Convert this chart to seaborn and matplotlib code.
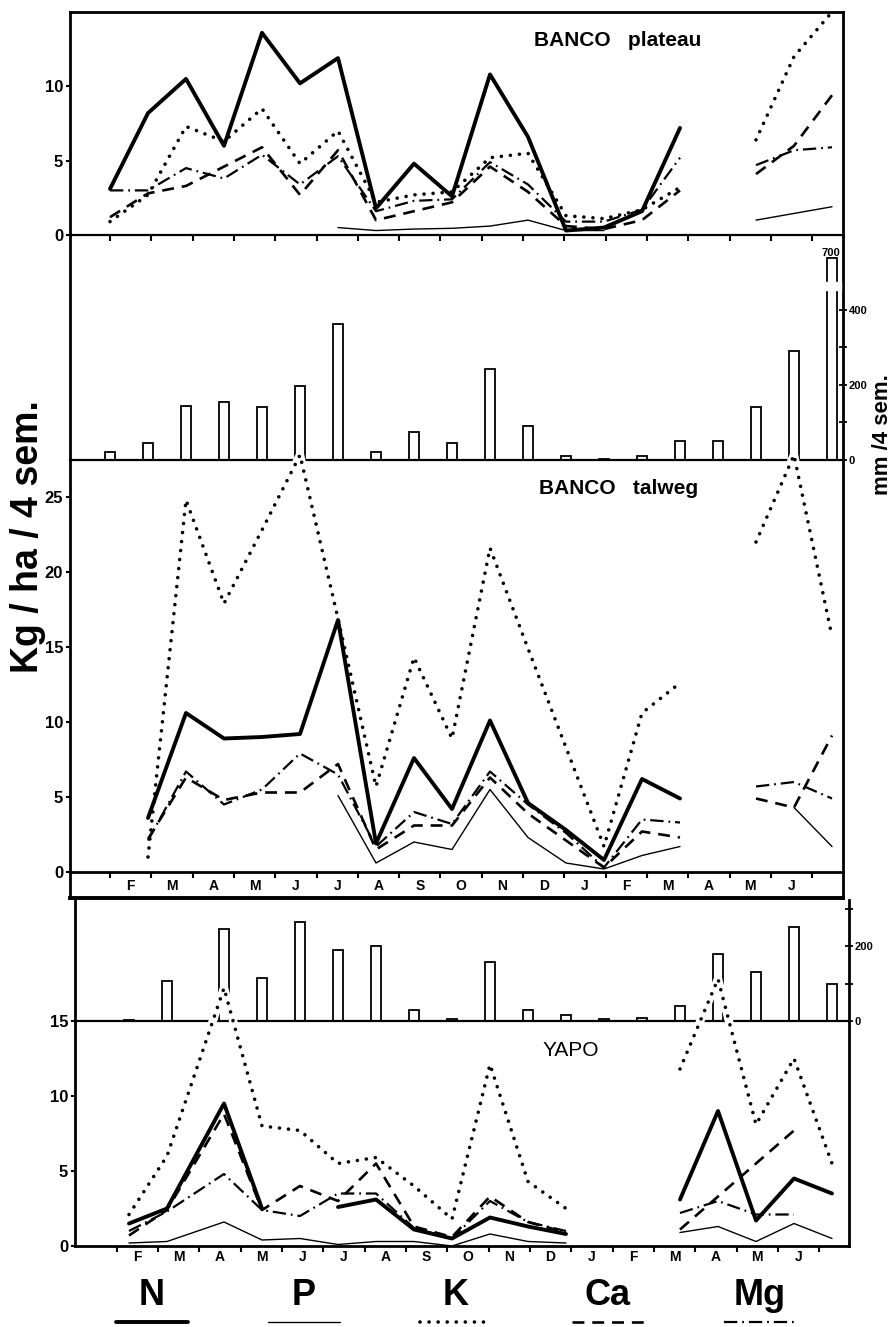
import numpy as np
import pandas as pd
import matplotlib
matplotlib.use("Agg")
import matplotlib.pyplot as plt
import matplotlib.transforms as mtransforms
import seaborn as sns

nan = np.nan

# ---------------------------------------------------------
# Data
# ---------------------------------------------------------
months = ['F', 'M', 'A', 'M', 'J', 'J', 'A', 'S', 'O', 'N', 'D',
          'J', 'F', 'M', 'A', 'M', 'J']
elements = ['N', 'P', 'K', 'Ca', 'Mg']

# Banco: 4-week sampling periods
banco_period = np.arange(20)
banco_rain = [20, 45, 145, 155, 140, 197, 363, 20, 75, 45,
              243, 91, 10, 3, 10, 51, 51, 141, 291, 700]

plateau_N = [3.1, 8.2, 10.5, 6.0, 13.6, 10.2, 11.9, 1.8, 4.8, 2.6,
             10.8, 6.6, 0.3, 0.5, 1.6, 7.2, nan, nan, nan, nan]
plateau_P = [nan, nan, nan, nan, nan, nan, 0.5, 0.3, 0.4, 0.45,
             0.6, 1.0, 0.3, 0.3, nan, nan, nan, 1.0, 1.45, 1.9]
plateau_K = [0.9, 2.7, 7.3, 6.3, 8.5, 4.8, 7.0, 2.2, 2.7, 2.9,
             5.2, 5.5, 1.3, 1.1, 1.7, 3.2, nan, 6.4, 12.0, 15.0]
plateau_Ca = [1.2, 2.8, 3.3, 4.6, 5.9, 2.7, 5.7, 1.0, 1.6, 2.2,
              4.6, 2.9, 0.6, 0.4, 1.0, 3.0, nan, 4.1, 6.0, 9.4]
plateau_Mg = [3.0, 3.0, 4.5, 3.8, 5.4, 3.4, 5.3, 1.6, 2.3, 2.4,
              4.9, 3.4, 0.9, 0.9, 1.7, 5.2, nan, 4.7, 5.7, 5.9]

talweg_N = [nan, 3.6, 10.6, 8.9, 9.0, 9.2, 16.8, 1.9, 7.6, 4.2,
            10.1, 4.6, 2.8, 0.8, 6.2, 4.9, nan, nan, nan, nan]
talweg_P = [nan, nan, nan, nan, nan, nan, 5.1, 0.6, 2.0, 1.5,
            5.5, 2.3, 0.6, 0.2, 1.1, 1.7, nan, nan, 4.3, 1.7]
talweg_K = [nan, 1.0, 24.8, 17.9, 22.8, 27.8, 16.9, 5.7, 14.3, 8.9,
            21.6, 14.9, 8.3, 1.7, 10.6, 12.6, nan, 22.0, 27.8, 15.7]
talweg_Ca = [nan, 2.2, 6.3, 4.8, 5.3, 5.3, 7.2, 1.5, 3.1, 3.1,
             6.3, 3.9, 2.1, 0.3, 2.7, 2.3, nan, 4.9, 4.3, 9.1]
talweg_Mg = [nan, 2.1, 6.7, 4.5, 5.5, 7.9, 6.5, 1.7, 4.0, 3.2,
             6.7, 4.5, 2.6, 0.3, 3.5, 3.3, nan, 5.7, 6.0, 4.9]

# Yapo: the first two samples fall between the Banco periods
yapo_period = [0.5, 1.5, 3, 4, 5, 6, 7, 8, 9, 10,
               11, 12, 13, 14, 15, 16, 17, 18, 19]
yapo_rain = [3, 107, 245, 115, 264, 190, 200, 29, 5, 157,
             29, 16, 5, 8, 40, 179, 131, 251, 99]

yapo_N = [1.5, 2.5, 9.5, 2.5, nan, 2.6, 3.1, 1.1, 0.5, 1.9,
          1.3, 0.8, nan, nan, 3.1, 9.0, 1.7, 4.5, 3.5]
yapo_P = [0.2, 0.3, 1.6, 0.4, 0.5, 0.1, 0.3, 0.3, 0.0, 0.8,
          0.3, 0.2, nan, nan, 0.9, 1.3, 0.3, 1.5, 0.5]
yapo_K = [2.1, 6.0, 17.2, 8.0, 7.7, 5.5, 5.9, 4.0, 1.8, 12.1,
          4.3, 2.5, nan, nan, 11.8, 17.8, 8.1, 12.5, 5.5]
yapo_Ca = [0.7, 2.4, 8.8, 2.4, 4.0, 3.0, 5.5, 1.3, 0.6, 3.3,
           1.6, 0.9, nan, nan, 1.1, 3.3, 5.5, 7.7, nan]
yapo_Mg = [1.0, 2.3, 4.8, 2.4, 2.0, 3.5, 3.5, 1.2, 0.5, 3.0,
           1.6, 1.0, nan, nan, 2.2, 3.0, 2.1, 2.1, nan]

plateau = dict(zip(elements, [plateau_N, plateau_P, plateau_K, plateau_Ca, plateau_Mg]))
talweg = dict(zip(elements, [talweg_N, talweg_P, talweg_K, talweg_Ca, talweg_Mg]))
yapo = dict(zip(elements, [yapo_N, yapo_P, yapo_K, yapo_Ca, yapo_Mg]))

# month boundaries expressed in 4-week periods
month_edges = np.arange(len(months) + 1) * 30.44 / 28
month_mids = (np.arange(len(months)) + 0.5) * 30.44 / 28

# ---------------------------------------------------------
# Style
# ---------------------------------------------------------
sns.set_style("ticks", rc={"axes.edgecolor": "black", "xtick.color": "black",
                           "ytick.color": "black", "text.color": "black"})
plt.rcParams["font.family"] = ["Liberation Sans", "DejaVu Sans"]
plt.rcParams["font.weight"] = "bold"
plt.rcParams["axes.linewidth"] = 2.0

line_style = {
    "N": dict(linewidth=2.8, linestyle="-"),
    "P": dict(linewidth=1.0, linestyle="-"),
    "K": dict(linewidth=2.6, linestyle=(0, (0.01, 2.5)), dash_capstyle="round"),
    "Ca": dict(linewidth=1.9, linestyle=(0, (4.5, 3.0))),
    "Mg": dict(linewidth=1.6, linestyle=(0, (6.0, 2.2, 0.8, 2.2))),
}

RAIN_CAP = 540      # mm, the tallest bar is drawn broken
W, H = 894, 1327
X0, DX = 110, 38    # pixel of period 0 and pixels per period

fig = plt.figure(figsize=(W / 100, H / 100), dpi=100)


def add_ax(l, t, r, b):
    ax = fig.add_axes([l / W, 1 - b / H, (r - l) / W, (b - t) / H])
    ax.set_facecolor("none")
    ax.set_xlim((l - X0) / DX, (r - X0) / DX)
    return ax


def to_long(x, series):
    frames = []
    for el in elements:
        v = np.asarray(series[el], dtype=float)
        keep = ~np.isnan(v)
        frames.append(pd.DataFrame({
            "period": np.asarray(x, dtype=float)[keep],
            "value": v[keep],
            "segment": np.cumsum(np.isnan(v))[keep],
            "element": el,
        }))
    return pd.concat(frames, ignore_index=True)


def draw_elements(ax, x, series, halo=False):
    df = to_long(x, series)
    for el in elements:
        sub = df[df["element"] == el]
        is_k = el == "K"
        if halo and is_k:
            # white under-stroke: breaks bars and base line where K crosses
            sns.lineplot(data=sub, x="period", y="value", units="segment",
                         estimator=None, color="white", linewidth=6,
                         clip_on=False, zorder=2.6, ax=ax)
        sns.lineplot(data=sub, x="period", y="value", units="segment",
                     estimator=None, color="black", clip_on=not is_k,
                     zorder=3.2 if is_k else 3, ax=ax, **line_style[el])
    ax.set(xlabel="", ylabel="")


def draw_rain(ax, x, rain, ymax, ticks, labels):
    x = np.asarray(x, dtype=float)
    rain = np.asarray(rain, dtype=float)
    sns.barplot(x=x, y=np.minimum(rain, RAIN_CAP), native_scale=True, fill=False,
                color="black", width=0.25, linewidth=1.3, errorbar=None, ax=ax)
    over = rain > RAIN_CAP
    if over.any():
        ax.bar(x[over], RAIN_CAP * 0.04, bottom=RAIN_CAP * 0.84, width=0.45,
               color="white", zorder=3)
        trans = mtransforms.blended_transform_factory(ax.transAxes, ax.transData)
        for v in rain[over]:
            ax.text(0.997, RAIN_CAP, f"{v:.0f}", transform=trans, ha="right",
                    va="bottom", fontsize=8)
    ax.set_ylim(0, ymax)
    ax.set(xlabel="", ylabel="")
    ax.set_xticks([])
    ax.yaxis.tick_right()
    ax.set_yticks(ticks, labels=labels)
    ax.tick_params(axis="y", direction="inout", length=6, width=1.3,
                   labelsize=8, pad=1)
    ax.spines["top"].set_visible(False)
    ax.spines["bottom"].set_visible(False)


def month_axis(ax, shift=0.0, labels=True, pad=5):
    ax.set_xticks(month_edges + shift)
    ax.tick_params(axis="x", which="major", direction="out", length=4,
                   width=1.5, labelbottom=False)
    if labels:
        ax.set_xticks(month_mids + shift, labels=months, minor=True)
        ax.tick_params(axis="x", which="minor", length=0, pad=pad,
                       labelsize=10)


def value_axis(ax, ymax, ticks):
    ax.set_ylim(0, ymax)
    ax.set_yticks(ticks)
    ax.tick_params(axis="y", direction="out", length=3, width=1.5,
                   labelsize=12, pad=2)


# ---------------------------------------------------------
# BANCO plateau
# ---------------------------------------------------------
ax_pl = add_ax(70, 12, 843, 235)
draw_elements(ax_pl, banco_period, plateau)
value_axis(ax_pl, 15, [0, 5, 10])
month_axis(ax_pl, labels=False)
ax_pl.spines["bottom"].set_linewidth(1.6)

# rain Banco
ax_rb = add_ax(70, 235, 843, 460)
draw_rain(ax_rb, banco_period, banco_rain, 600,
          [0, 100, 200, 300, 400], ["0", "", "200", "", "400"])
ax_rb.set_xlim((70 - X0) / DX, (843 - X0) / DX)

# BANCO talweg
ax_tw = add_ax(70, 460, 843, 872)
draw_elements(ax_tw, banco_period, talweg, halo=True)
value_axis(ax_tw, (872 - 460) / 15, [0, 5, 10, 15, 20, 25])
month_axis(ax_tw, pad=5)
ax_tw.spines["top"].set_linewidth(1.6)

# month strip frame
ax_st = add_ax(70, 872, 843, 898)
ax_st.set_xticks([])
ax_st.set_yticks([])
ax_st.spines["top"].set_visible(False)
ax_st.spines["bottom"].set_linewidth(2.8)

# ---------------------------------------------------------
# YAPO
# ---------------------------------------------------------
ax_ry = add_ax(75, 900, 849, 1021)
draw_rain(ax_ry, yapo_period, yapo_rain, (1021 - 900) / 0.375,
          [0, 100, 200, 300], ["0", "", "200", ""])
ax_ry.set_xlim((75 - X0) / DX, (849 - X0) / DX)

ax_ya = add_ax(75, 1021, 849, 1246)
draw_elements(ax_ya, yapo_period, yapo, halo=True)
value_axis(ax_ya, 15, [0, 5, 10, 15])
month_axis(ax_ya, shift=0.18, pad=3)
ax_ya.spines["top"].set_linewidth(1.6)

# ---------------------------------------------------------
# Texts
# ---------------------------------------------------------
fig.text(618 / W, 1 - 40 / H, "BANCO   plateau", ha="center", va="center",
         fontsize=15)
fig.text(619 / W, 1 - 488 / H, "BANCO   talweg", ha="center", va="center",
         fontsize=15)
fig.text(571 / W, 1 - 1050 / H, "YAPO", ha="center", va="center",
         fontsize=15, fontweight="normal")
fig.text(28 / W, 1 - 537 / H, "Kg / ha / 4 sem.", rotation=90, ha="center",
         va="center", fontsize=27)
fig.text(883 / W, 1 - 435 / H, "mm /4 sem.", rotation=90, ha="center",
         va="center", fontsize=16)

# legend: symbol name above a sample of its line
ax_lg = fig.add_axes([0, 0, 1, 65 / H])
ax_lg.set_xlim(0, W)
ax_lg.set_ylim(H, H - 65)
ax_lg.axis("off")
for i, el in enumerate(elements):
    cx = 152 + 152 * i
    ax_lg.text(cx, 1296, el, ha="center", va="center", fontsize=26)
    ax_lg.plot([cx - 36, cx + 36], [1322, 1322], color="black",
               **line_style[el])

fig.savefig("out.png", dpi=100)
